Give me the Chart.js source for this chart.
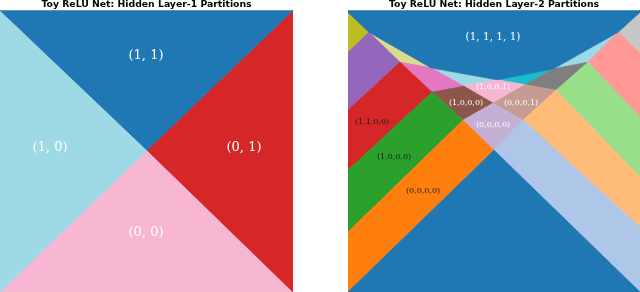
<!DOCTYPE html>
<html>
<head>
<meta charset="utf-8">
<script src="https://cdn.jsdelivr.net/npm/chart.js@4.4.1/dist/chart.umd.min.js"></script>
<style>
  html, body { margin: 0; padding: 0; background: #ffffff; }
  #wrap { position: relative; width: 640px; height: 292px; overflow: hidden; background: #ffffff; }
  canvas { position: absolute; top: 0; }
</style>
</head>
<body>
<div id="wrap">
  <canvas id="c1" width="293" height="292" style="left:0px"></canvas>
  <canvas id="c2" width="292" height="292" style="left:348px"></canvas>
</div>
<script>
// ---------------- DATA (panel-local input coordinates, y grows downward) ----------------
const titles = ['Toy ReLU Net: Hidden Layer-1 Partitions', 'Toy ReLU Net: Hidden Layer-2 Partitions'];

// Layer-1 partition regions
const l1Names  = ['top', 'left', 'right', 'bottom'];
const l1Top    = [[0,0],[293,0],[147,140]];
const l1Left   = [[0,0],[147,140],[0,282]];
const l1Right  = [[293,0],[293,282],[147,140]];
const l1Bottom = [[0,282],[147,140],[293,282]];
const l1Labels = ['(1, 1)', '(1, 0)', '(0, 1)', '(0, 0)'];
const l1LabelAt = [[146,45],[50,137],[244,137],[146,223]];

// Layer-2 partition regions
const l2BlueTop    = [[0,0],[292,0],[292,2],[270,22],[205.5,58.6],[149,69.5],[83,57.6],[21,22],[0,2]];
const l2Khaki      = [[21,22],[83,57.6],[52,52]];
const l2Pink       = [[52,52],[83,57.6],[116,76],[84,82]];
const l2LightBlueA = [[83,57.6],[149,69.5],[116,76]];
const l2LightPink  = [[116,76],[149,69.5],[177,74.5],[145,93]];
const l2Cyan       = [[149,69.5],[205.5,58.6],[177,74.5]];
const l2LightBlueB = [[205.5,58.6],[270,22],[240,52]];
const l2Gray       = [[177,74.5],[205.5,58.6],[240,52],[208,80]];
const l2Rosy       = [[145,93],[177,74.5],[208,80],[175,110]];
const l2Brown      = [[84,82],[116,76],[145,93],[115,110]];
const l2Lavender   = [[115,110],[145,93],[175,110],[146,140]];
const l2Olive      = [[0,2],[21,22],[0,42]];
const l2Purple     = [[0,42],[21,22],[52,52],[0,100]];
const l2Red        = [[0,100],[52,52],[84,82],[0,160]];
const l2Green      = [[0,160],[84,82],[115,110],[0,222]];
const l2Orange     = [[0,222],[115,110],[146,140],[0,282]];
const l2Silver     = [[292,2],[292,43],[270,22]];
const l2Salmon     = [[270,22],[292,43],[292,107],[240,52]];
const l2LightGreen = [[240,52],[292,107],[292,167],[208,80]];
const l2LightOrange= [[208,80],[292,167],[292,217],[175,110]];
const l2LightSteel = [[175,110],[292,217],[292,282],[146,140]];
const l2BlueBottom = [[146,140],[292,282],[0,282]];

const l2Labels  = ['(1, 1, 1, 1)', '(1,0,0,1)', '(1,0,0,0)', '(0,0,0,1)', '(0,0,0,0)', '(1,1,0,0)', '(1,0,0,0)', '(0,0,0,0)'];
const l2LabelAt = [[145,27],[145,77],[118,93],[173,93],[145,115],[24,112],[46,147],[75,181]];

// ---------------- STYLES ----------------
const C = {
  blue:'#1f77b4', lightsteel:'#aec7e8', orange:'#ff7f0e', lightorange:'#ffbb78',
  green:'#2ca02c', lightgreen:'#98df8a', red:'#d62728', salmon:'#ff9896',
  purple:'#9467bd', lavender:'#c5b0d5', brown:'#8c564b', rosy:'#c49c94',
  pink:'#e377c2', lightpink:'#f7b6d2', gray:'#7f7f7f', silver:'#c7c7c7',
  olive:'#bcbd22', khaki:'#dbdb8d', cyan:'#17becf', lightblue:'#9edae5'
};

const panel1 = [
  [l1Top, C.blue], [l1Left, C.lightblue], [l1Right, C.red], [l1Bottom, C.lightpink]
];
const panel2 = [
  [l2BlueTop, C.blue], [l2BlueBottom, C.blue], [l2LightSteel, C.lightsteel],
  [l2LightOrange, C.lightorange], [l2LightGreen, C.lightgreen], [l2Salmon, C.salmon],
  [l2Silver, C.silver], [l2Orange, C.orange], [l2Green, C.green], [l2Red, C.red],
  [l2Purple, C.purple], [l2Olive, C.olive], [l2Lavender, C.lavender], [l2Brown, C.brown],
  [l2Rosy, C.rosy], [l2Gray, C.gray], [l2LightPink, C.lightpink], [l2Pink, C.pink],
  [l2Khaki, C.khaki], [l2LightBlueA, C.lightblue], [l2LightBlueB, C.lightblue], [l2Cyan, C.cyan]
];
const l1LabelStyle = l1Labels.map(() => ({font:'13px "DejaVu Serif"', color:'#ffffff'}));
const l2LabelStyle = [
  {font:'10.5px "DejaVu Serif"', color:'#ffffff'},
  {font:'8px "DejaVu Serif"', color:'#ffffff'},
  {font:'8px "DejaVu Serif"', color:'#ffffff'},
  {font:'8px "DejaVu Serif"', color:'#ffffff'},
  {font:'8px "DejaVu Serif"', color:'#ffffff'},
  {font:'8px "DejaVu Serif"', color:'#1a1a1a'},
  {font:'8px "DejaVu Serif"', color:'#1a1a1a'},
  {font:'8px "DejaVu Serif"', color:'#1a1a1a'}
];

// ---------------- CHARTS ----------------
const labelPlugin = {
  id: 'regionLabels',
  afterDatasetsDraw(chart) {
    const cfg = chart.options.plugins.regionLabels;
    if (!cfg) return;
    const ctx = chart.ctx;
    const xs = chart.scales.x, ys = chart.scales.y;
    ctx.save();
    ctx.textAlign = 'center';
    ctx.textBaseline = 'middle';
    cfg.texts.forEach((t, i) => {
      ctx.font = cfg.styles[i].font;
      ctx.fillStyle = cfg.styles[i].color;
      ctx.fillText(t, xs.getPixelForValue(cfg.at[i][0]), ys.getPixelForValue(cfg.at[i][1]));
    });
    ctx.restore();
  }
};

function makeChart(id, regions, title, width, texts, at, styles) {
  const datasets = regions.map(([verts, color]) => ({
    data: verts.concat([verts[0]]).map(([x, y]) => ({x, y})),
    showLine: true,
    fill: 'shape',
    backgroundColor: color,
    borderColor: color,
    borderWidth: 0.8,
    pointRadius: 0,
    pointHoverRadius: 0,
    tension: 0
  }));
  return new Chart(document.getElementById(id), {
    type: 'scatter',
    data: { datasets },
    options: {
      responsive: false,
      animation: false,
      events: [],
      layout: { padding: 0 },
      scales: {
        x: { type: 'linear', display: false, min: 0, max: width },
        y: { type: 'linear', display: false, min: 0, max: 282, reverse: true }
      },
      plugins: {
        legend: { display: false },
        tooltip: { enabled: false },
        title: {
          display: true, text: title, color: '#000000',
          font: { family: '"DejaVu Sans"', weight: 'bold', size: 9.3, lineHeight: 1 },
          padding: { top: 0, bottom: 1 }
        },
        regionLabels: { texts, at, styles }
      }
    },
    plugins: [labelPlugin]
  });
}

makeChart('c1', panel1, titles[0], 293, l1Labels, l1LabelAt, l1LabelStyle);
makeChart('c2', panel2, titles[1], 292, l2Labels, l2LabelAt, l2LabelStyle);
</script>
</body>
</html>
